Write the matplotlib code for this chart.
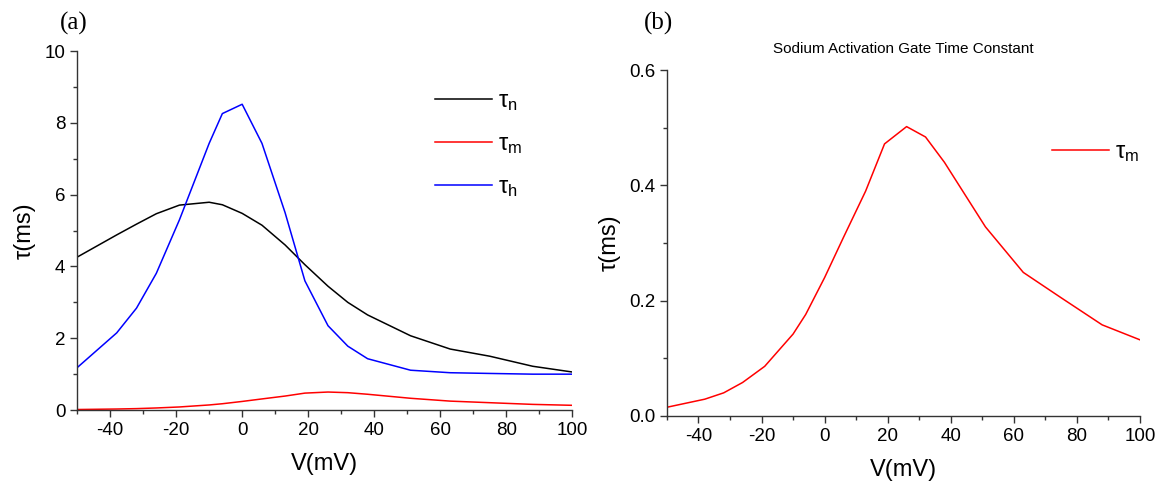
import matplotlib
matplotlib.use("Agg")
import matplotlib.pyplot as plt
from matplotlib.ticker import MultipleLocator

plt.rcParams['font.family'] = ['Liberation Sans', 'DejaVu Sans']
plt.rcParams['mathtext.fontset'] = 'custom'
plt.rcParams['mathtext.rm'] = 'Liberation Sans'
plt.rcParams['mathtext.it'] = 'Liberation Sans'
plt.rcParams['axes.unicode_minus'] = False

V = [-50, -38, -32, -26, -19, -10, -6, 0, 6, 13, 19, 26, 32, 38, 51, 63, 75, 88, 100]
tau_n = [4.26, 4.88, 5.18, 5.47, 5.71, 5.79, 5.72, 5.48, 5.15, 4.60, 4.05, 3.45, 3.00, 2.65,
         2.07, 1.70, 1.50, 1.22, 1.06]
tau_h = [1.18, 2.15, 2.84, 3.81, 5.30, 7.43, 8.26, 8.52, 7.43, 5.50, 3.60, 2.35, 1.78, 1.43,
         1.11, 1.04, 1.02, 1.00, 1.00]
tau_m = [0.015, 0.029, 0.040, 0.058, 0.086, 0.142, 0.176, 0.240, 0.310, 0.390, 0.472, 0.502,
         0.484, 0.440, 0.328, 0.249, 0.205, 0.158, 0.132]

xticks = [-40, -20, 0, 20, 40, 60, 80, 100]

fig = plt.figure(figsize=(11.68, 4.87), dpi=100)
axa = fig.add_axes([0.066, 0.158, 0.424, 0.737])
axb = fig.add_axes([0.571, 0.146, 0.405, 0.710])

def style(ax):
    for s in ['top', 'right']:
        ax.spines[s].set_visible(False)
    for s in ['left', 'bottom']:
        ax.spines[s].set_color('#333333')
        ax.spines[s].set_linewidth(1.0)
    ax.tick_params(which='major', direction='out', length=5, width=1, colors='#333333',
                   labelsize=13.5, labelcolor='black')
    ax.tick_params(which='minor', direction='out', length=3, width=1, colors='#333333')
    ax.set_xlim(-50, 100)
    ax.set_xticks(xticks)
    ax.xaxis.set_minor_locator(MultipleLocator(10))
    ax.set_xlabel('V(mV)', fontsize=17, labelpad=10)
    ax.set_ylabel('τ(ms)', fontsize=17, labelpad=6)

# Panel (a)
axa.plot(V, tau_n, color='black', lw=1.1, label=r'$\mathregular{\tau_n}$')
axa.plot(V, tau_m, color='red', lw=1.1, label=r'$\mathregular{\tau_m}$')
axa.plot(V, tau_h, color='blue', lw=1.1, label=r'$\mathregular{\tau_h}$')
style(axa)
axa.set_ylim(0, 10)
axa.set_yticks([0, 2, 4, 6, 8, 10])
axa.yaxis.set_minor_locator(MultipleLocator(1))
axa.legend(loc='upper left', bbox_to_anchor=(0.68, 0.95), frameon=False, fontsize=17,
           handlelength=2.4, labelspacing=0.85, handletextpad=0.25)
fig.text(0.051, 0.975, '(a)', fontsize=18, family='Liberation Serif', va='top')

# Panel (b)
axb.plot(V, tau_m, color='red', lw=1.1, label=r'$\mathregular{\tau_m}$')
style(axb)
axb.set_ylim(0, 0.6)
axb.set_yticks([0.0, 0.2, 0.4, 0.6])
axb.yaxis.set_minor_locator(MultipleLocator(0.1))
axb.set_title('Sodium Activation Gate Time Constant', fontsize=11, pad=12)
axb.legend(loc='upper left', bbox_to_anchor=(0.77, 0.855), frameon=False, fontsize=17,
           handlelength=2.4, handletextpad=0.25)
fig.text(0.551, 0.975, '(b)', fontsize=18, family='Liberation Serif', va='top')

fig.savefig('out.png', dpi=100)
